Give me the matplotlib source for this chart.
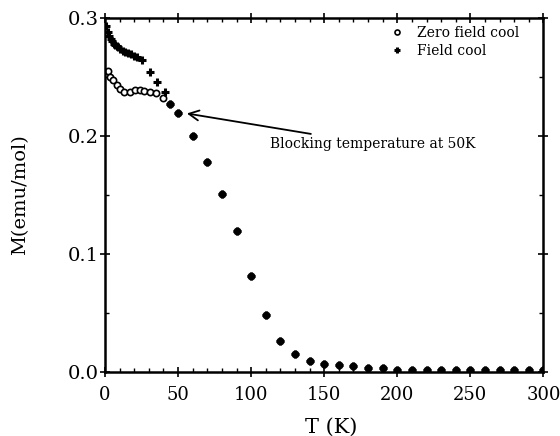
import numpy as np
import matplotlib.pyplot as plt
from matplotlib.ticker import MultipleLocator

plt.rcParams['font.family'] = ['DejaVu Serif']

# high-temperature part, where both curves coincide
T_high = [60, 70, 80, 90, 100, 110, 120, 130, 140, 150, 160, 170, 180, 190,
          200, 210, 220, 230, 240, 250, 260, 270, 280, 290, 300]
M_high = [0.200, 0.178, 0.151, 0.119, 0.081, 0.048, 0.026, 0.015, 0.009, 0.0065,
          0.0055, 0.005, 0.003, 0.003, 0.002, 0.002, 0.002, 0.002, 0.002, 0.002,
          0.002, 0.002, 0.002, 0.002, 0.002]

# zero field cool (open circles)
zfc_T = [2, 3.5, 5.5, 8, 10, 13, 17, 20.5, 24, 27, 31, 35, 40, 44.5, 50] + T_high
zfc_M = [0.255, 0.250, 0.247, 0.243, 0.240, 0.237, 0.2375, 0.239, 0.239, 0.238,
         0.237, 0.236, 0.232, 0.227, 0.219] + M_high

# field cool (plus)
fc_T = [1, 2, 3, 4, 5, 6, 7, 8, 9, 10, 12, 14, 16, 18, 20, 22, 25, 31, 35.5,
        41, 44.5, 50] + T_high
fc_M = [0.293, 0.288, 0.285, 0.282, 0.280, 0.278, 0.277, 0.276, 0.275, 0.274,
        0.272, 0.271, 0.270, 0.269, 0.268, 0.267, 0.264, 0.254, 0.246, 0.237,
        0.227, 0.219] + M_high

fig = plt.figure(figsize=(5.6, 4.36), dpi=100)
ax = fig.add_axes([0.1875, 0.147, 0.783, 0.812])

ax.plot(zfc_T, zfc_M, 'o', ms=4.5, mfc='white', mec='black', mew=1.2,
        label='Zero field cool')
ax.plot(fc_T, fc_M, '+', ms=5.5, color='black', mew=2.2, label='Field cool')

ax.set_xlim(0, 300)
ax.set_ylim(0, 0.3)
ax.xaxis.set_major_locator(MultipleLocator(50))
ax.xaxis.set_minor_locator(MultipleLocator(10))
ax.yaxis.set_major_locator(MultipleLocator(0.1))
ax.yaxis.set_minor_locator(MultipleLocator(0.05))
ax.yaxis.set_major_formatter(plt.FormatStrFormatter('%.1f'))
ax.tick_params(which='both', top=True, right=True)
ax.tick_params(which='major', direction='inout', length=7, width=1.2)
ax.tick_params(which='minor', direction='in', length=3, width=1)
ax.tick_params(axis='x', labelsize=13, pad=7)
ax.tick_params(axis='y', labelsize=14, pad=1)
for s in ax.spines.values():
    s.set_linewidth(1.8)

ax.set_xlabel('T (K)', fontsize=15, labelpad=6)
ax.xaxis.set_label_coords(0.515, -0.13)
ax.set_ylabel('M(emu/mol)', fontsize=14, labelpad=28)

ax.legend(loc='upper right', bbox_to_anchor=(0.95, 0.985), frameon=False,
          fontsize=10, handlelength=1.2, handletextpad=0.8, borderpad=0.2,
          borderaxespad=0, labelspacing=0.3, markerscale=0.8)

ax.annotate('Blocking temperature at 50K', xy=(56, 0.219), xytext=(113, 0.193),
            fontsize=10, ha='left', va='center',
            arrowprops=dict(arrowstyle='->', lw=1.3, color='black',
                            mutation_scale=18, shrinkA=2, shrinkB=0))

plt.savefig('out.png', dpi=100)
